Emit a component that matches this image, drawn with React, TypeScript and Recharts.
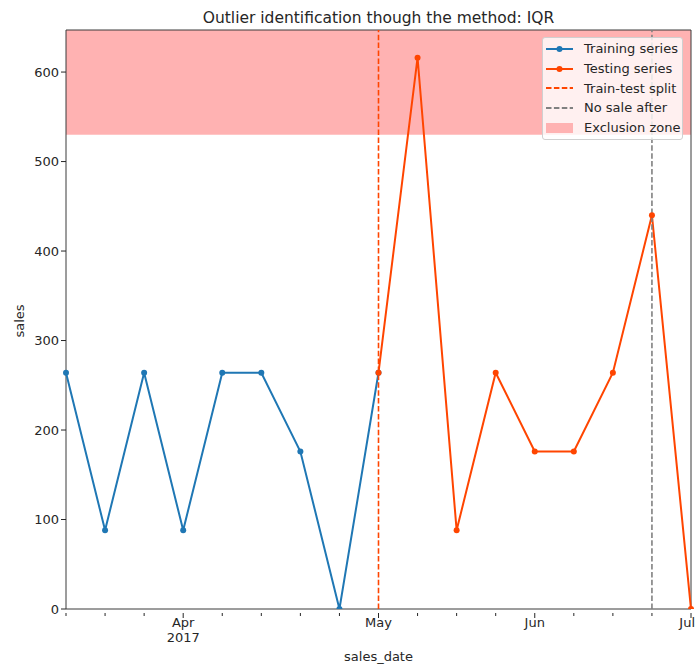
import React from "react";
import {
  ComposedChart,
  Line,
  XAxis,
  YAxis,
  ReferenceArea,
  ReferenceLine,
} from "recharts";

// weekly sales, Mar 2017 -> Jul 2017 (one point per week)
const weeks = [0, 1, 2, 3, 4, 5, 6, 7, 8, 9, 10, 11, 12, 13, 14, 15, 16];
const trainSales = [264, 88, 264, 88, 264, 264, 176, 0, 264];
const testSales = [264, 616, 88, 264, 176, 176, 264, 440, 0];
const testStart = 8;
const monthLabels: Record<number, string[]> = {
  3: ["Apr", "2017"],
  8: ["May"],
  12: ["Jun"],
  16: ["Jul"],
};
const yTicks = [0, 100, 200, 300, 400, 500, 600];
const yMax = 647;
const exclusionFrom = 530;
const splitWeek = 8;
const lastSaleWeek = 15;

const TRAIN = "#1f77b4";
const TEST = "#ff4500";
const FONT = "'DejaVu Sans', sans-serif";
const INK = "#262626";
const FS = 13;

const rows = weeks.map((w) => ({
  week: w,
  train: w < trainSales.length ? trainSales[w] : null,
  test: w >= testStart ? testSales[w - testStart] : null,
}));

function MonthTick(props: any) {
  const { x, y, payload } = props;
  const lines = monthLabels[payload.value];
  const len = lines ? 5 : 3;
  // the last label sits on the right edge; keep it inside the picture
  const isLast = payload.value === weeks[weeks.length - 1];
  return (
    <g>
      <line x1={x} x2={x} y1={y - 4} y2={y - 4 + len} stroke={INK} strokeWidth={1} />
      {lines &&
        lines.map((t, i) => (
          <text
            key={t}
            x={isLast ? x + 4 : x}
            y={y + 10 + i * 15}
            textAnchor={isLast ? "end" : "middle"}
            fontSize={FS}
            fontFamily={FONT}
            fill={INK}
          >
            {t}
          </text>
        ))}
    </g>
  );
}

const legendItems = [
  { label: "Training series", kind: "marker", color: TRAIN },
  { label: "Testing series", kind: "marker", color: TEST },
  { label: "Train-test split", kind: "dash", color: TEST },
  { label: "No sale after", kind: "dash", color: "#808080" },
  { label: "Exclusion zone", kind: "patch", color: "#ffb2b2" },
];

function LegendBox() {
  return (
    <div
      style={{
        position: "absolute",
        left: 542,
        top: 37,
        width: 141,
        boxSizing: "border-box",
        background: "rgba(255,255,255,0.8)",
        border: "1px solid #d0d0d0",
        borderRadius: 3,
        padding: "1px 0 2px 3px",
        fontFamily: FONT,
        fontSize: FS,
        color: INK,
      }}
    >
      {legendItems.map((it) => (
        <div key={it.label} style={{ display: "flex", alignItems: "center", height: 19.7 }}>
          <svg width={28} height={12} style={{ marginRight: 10, flex: "none" }}>
            {it.kind === "marker" && (
              <>
                <line x1={0} x2={27} y1={6} y2={6} stroke={it.color} strokeWidth={2} />
                <circle cx={13.5} cy={6} r={3} fill={it.color} />
              </>
            )}
            {it.kind === "dash" && (
              <line x1={0} x2={27} y1={6} y2={6} stroke={it.color} strokeWidth={2} strokeDasharray="5.5 2.4" />
            )}
            {it.kind === "patch" && <rect x={0} y={1} width={27} height={10} fill={it.color} />}
          </svg>
          <span style={{ whiteSpace: "nowrap" }}>{it.label}</span>
        </div>
      ))}
    </div>
  );
}

export default function App() {
  return (
    <div style={{ position: "absolute", left: 0, top: 0, width: 696, height: 666, background: "#fff" }}>
      <ComposedChart
        width={696}
        height={666}
        data={rows}
        margin={{ top: 30, right: 5, left: 0, bottom: 0 }}
      >
        <XAxis
          dataKey="week"
          type="number"
          domain={[0, 16]}
          ticks={weeks}
          interval={0}
          tickLine={false}
          axisLine={false}
          tick={<MonthTick />}
          height={57}
        />
        <YAxis
          type="number"
          domain={[0, yMax]}
          ticks={yTicks}
          interval={0}
          width={66}
          allowDataOverflow
          axisLine={false}
          tickSize={5}
          tickLine={{ stroke: INK }}
          tick={{ fontSize: FS, fontFamily: FONT, fill: INK }}
        />
        <Line
          dataKey="train"
          stroke={TRAIN}
          strokeWidth={2}
          dot={{ r: 3, fill: TRAIN, stroke: TRAIN, strokeWidth: 0 }}
          activeDot={false}
          isAnimationActive={false}
          connectNulls={false}
        />
        <Line
          dataKey="test"
          stroke={TEST}
          strokeWidth={2}
          dot={{ r: 3, fill: TEST, stroke: TEST, strokeWidth: 0 }}
          activeDot={false}
          isAnimationActive={false}
          connectNulls={false}
        />
        <ReferenceLine x={splitWeek} stroke={TEST} strokeWidth={1.6} strokeDasharray="5.5 2.4" />
        <ReferenceLine x={lastSaleWeek} stroke="#808080" strokeWidth={1.6} strokeDasharray="5.5 2.4" />
        <ReferenceArea
          y1={exclusionFrom}
          y2={yMax}
          fill="#ff0000"
          fillOpacity={0.3}
          stroke="none"
        />
        <ReferenceArea
          x1={0}
          x2={16}
          y1={0}
          y2={yMax}
          fill="none"
          stroke="#3a3a3a"
          strokeWidth={1}
        />
      </ComposedChart>
      <div
        style={{
          position: "absolute",
          left: 66,
          width: 625,
          top: 9,
          textAlign: "center",
          fontFamily: FONT,
          fontSize: 15.5,
          color: INK,
        }}
      >
        Outlier identification though the method: IQR
      </div>
      <div
        style={{
          position: "absolute",
          left: 19,
          top: 321,
          transform: "translate(-50%, -50%) rotate(-90deg)",
          fontFamily: FONT,
          fontSize: FS,
          color: INK,
        }}
      >
        sales
      </div>
      <div
        style={{
          position: "absolute",
          left: 66,
          width: 625,
          top: 649,
          textAlign: "center",
          fontFamily: FONT,
          fontSize: FS,
          color: INK,
        }}
      >
        sales_date
      </div>
      <LegendBox />
    </div>
  );
}
